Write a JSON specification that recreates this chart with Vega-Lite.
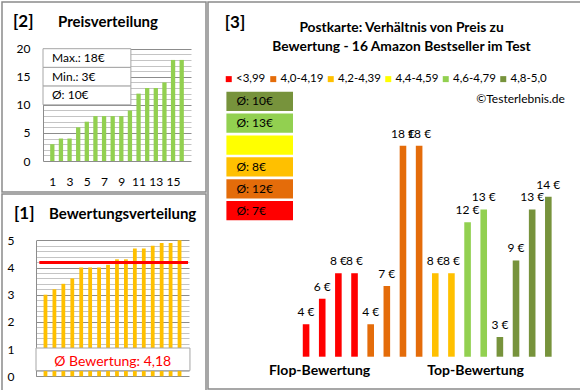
{
  "$schema": "https://vega.github.io/schema/vega-lite/v6.json",
  "padding": {"left": 1, "top": 1, "right": 0, "bottom": 0},
  "background": "white",
  "config": {
    "font": "Lato",
    "view": {"stroke": "#8a8a8a", "strokeWidth": 1.5},
    "axis": {"labelFont": "Lato", "labelColor": "#000000", "labelOverlap": false, "labelFlush": false},
    "legend": {"labelFont": "Lato"}
  },
  "datasets": {
    "prices": [
      {"rank": 1, "price": 3}, {"rank": 2, "price": 4}, {"rank": 3, "price": 4}, {"rank": 4, "price": 6},
      {"rank": 5, "price": 7}, {"rank": 6, "price": 8}, {"rank": 7, "price": 8}, {"rank": 8, "price": 8},
      {"rank": 9, "price": 8}, {"rank": 10, "price": 9}, {"rank": 11, "price": 12}, {"rank": 12, "price": 13},
      {"rank": 13, "price": 13}, {"rank": 14, "price": 14}, {"rank": 15, "price": 18}, {"rank": 16, "price": 18}
    ],
    "stats": [{"stat": "Max.: 18€"}, {"stat": "Min.: 3€"}, {"stat": "Ø: 10€"}],
    "ratings": [
      {"rank": 1, "rating": 3.0}, {"rank": 2, "rating": 3.2}, {"rank": 3, "rating": 3.4}, {"rank": 4, "rating": 3.6},
      {"rank": 5, "rating": 4.0}, {"rank": 6, "rating": 4.0}, {"rank": 7, "rating": 4.0}, {"rank": 8, "rating": 4.1},
      {"rank": 9, "rating": 4.3}, {"rank": 10, "rating": 4.3}, {"rank": 11, "rating": 4.7}, {"rank": 12, "rating": 4.7},
      {"rank": 13, "rating": 4.8}, {"rank": 14, "rating": 4.9}, {"rank": 15, "rating": 4.9}, {"rank": 16, "rating": 5.0}
    ],
    "products": [
      {"rank": 1, "price": 4, "cat": "<3,99", "label": "4 €"},
      {"rank": 2, "price": 6, "cat": "<3,99", "label": "6 €"},
      {"rank": 3, "price": 8, "cat": "<3,99", "label": "8 €"},
      {"rank": 4, "price": 8, "cat": "<3,99", "label": "8 €"},
      {"rank": 5, "price": 4, "cat": "4,0-4,19", "label": "4 €"},
      {"rank": 6, "price": 7, "cat": "4,0-4,19", "label": "7 €"},
      {"rank": 7, "price": 18, "cat": "4,0-4,19", "label": "18 €"},
      {"rank": 8, "price": 18, "cat": "4,0-4,19", "label": "18 €"},
      {"rank": 9, "price": 8, "cat": "4,2-4,39", "label": "8 €"},
      {"rank": 10, "price": 8, "cat": "4,2-4,39", "label": "8 €"},
      {"rank": 11, "price": 12, "cat": "4,6-4,79", "label": "12 €"},
      {"rank": 12, "price": 13, "cat": "4,6-4,79", "label": "13 €"},
      {"rank": 13, "price": 3, "cat": "4,8-5,0", "label": "3 €"},
      {"rank": 14, "price": 9, "cat": "4,8-5,0", "label": "9 €"},
      {"rank": 15, "price": 13, "cat": "4,8-5,0", "label": "13 €"},
      {"rank": 16, "price": 14, "cat": "4,8-5,0", "label": "14 €"}
    ],
    "groups": [
      {"cat": "4,8-5,0", "avg": "Ø: 10€"},
      {"cat": "4,6-4,79", "avg": "Ø: 13€"},
      {"cat": "4,4-4,59", "avg": ""},
      {"cat": "4,2-4,39", "avg": "Ø: 8€"},
      {"cat": "4,0-4,19", "avg": "Ø: 12€"},
      {"cat": "<3,99", "avg": "Ø: 7€"}
    ]
  },
  "spacing": 0,
  "hconcat": [
    {
      "spacing": 0,
      "vconcat": [
        {
          "width": 204,
          "height": 190,
          "layer": [
            {
              "data": {"name": "prices"},
              "mark": {"type": "bar", "width": 4.3, "color": "#92d050"},
              "encoding": {
                "x": {"field": "rank", "type": "quantitative",
                  "scale": {"domain": [0.5, 16.5], "range": [41, 189], "nice": false, "zero": false},
                  "axis": {"orient": "bottom", "offset": -31, "values": [1, 3, 5, 7, 9, 11, 13, 15], "format": "d",
                    "domain": false, "ticks": false, "grid": false, "title": null, "labelFontSize": 12,
                    "labelPadding": 15}},
                "y": {"field": "price", "type": "quantitative",
                  "scale": {"domain": [0, 20], "range": [159, 46.7], "nice": false},
                  "axis": {"orient": "left", "offset": -41, "values": [0,1,2,3,4,5,6,7,8,9,10,11,12,13,14,15,16,17,18,19,20],
                    "format": "d", "labelExpr": "datum.value % 5 === 0 ? datum.label : ''",
                    "grid": true, "gridColor": {"condition": {"test": "datum.value % 5 === 0", "value": "#8c8c8c"}, "value": "#c4c4c4"},
                    "domain": true, "domainColor": "#8c8c8c", "ticks": false, "title": null,
                    "labelFontSize": 12, "labelPadding": 13}}
              }
            },
            {
              "data": {"name": "stats"},
              "layer": [
                {
                  "mark": {"type": "rect", "fill": "white", "stroke": "#a6a6a6", "strokeWidth": 1},
                  "encoding": {
                    "x": {"datum": 0.5, "type": "quantitative", "scale": {"domain": [0.5, 16.5], "range": [41, 189], "nice": false, "zero": false}, "axis": null},
                    "x2": {"datum": 10},
                    "y": {"field": "stat", "type": "nominal", "sort": null,
                      "scale": {"range": [46.7, 102.8], "paddingInner": 0, "paddingOuter": 0}, "axis": null}
                  }
                },
                {
                  "mark": {"type": "text", "align": "left", "baseline": "middle", "dx": 9, "fontSize": 12, "color": "#000000"},
                  "encoding": {
                    "x": {"datum": 0.5, "axis": null},
                    "y": {"field": "stat", "type": "nominal", "sort": null, "axis": null},
                    "text": {"field": "stat"}
                  }
                }
              ]
            },
            {
              "data": {"values": [{}]},
              "layer": [
                {
                  "mark": {"type": "text", "align": "left", "baseline": "middle", "fontSize": 17, "fontWeight": "bold", "color": "#000000"},
                  "encoding": {
                    "x": {"datum": -2.74, "type": "quantitative", "scale": {"domain": [0.5, 16.5], "range": [41, 189], "nice": false, "zero": false}, "axis": null},
                    "y": {"datum": 24.84, "type": "quantitative", "scale": {"domain": [0, 20], "range": [159, 46.7], "nice": false, "zero": false}, "axis": null},
                    "text": {"value": "[2]"}
                  }
                },
                {
                  "mark": {"type": "text", "align": "left", "baseline": "middle", "fontSize": 15, "fontWeight": "bold", "color": "#000000"},
                  "encoding": {"x": {"datum": 2.12, "axis": null}, "y": {"datum": 24.84, "axis": null}, "text": {"value": "Preisverteilung"}}
                }
              ]
            }
          ],
          "resolve": {"scale": {"x": "independent", "y": "independent"}}
        },
        {
          "width": 204,
          "height": 197,
          "layer": [
            {
              "data": {"name": "ratings"},
              "mark": {"type": "bar", "width": 3.8, "color": "#ffc000"},
              "encoding": {
                "x": {"field": "rank", "type": "quantitative",
                  "scale": {"domain": [0.5, 16.5], "range": [34, 187], "nice": false, "zero": false}, "axis": null},
                "y": {"field": "rating", "type": "quantitative",
                  "scale": {"domain": [0, 5], "range": [182.3, 46.3], "nice": false},
                  "axis": {"orient": "left", "offset": -34,
                    "values": [0,0.2,0.4,0.6,0.8,1,1.2,1.4,1.6,1.8,2,2.2,2.4,2.6,2.8,3,3.2,3.4,3.6,3.8,4,4.2,4.4,4.6,4.8,5],
                    "format": ".0f", "labelExpr": "datum.value % 1 === 0 ? datum.label : ''",
                    "grid": true, "gridColor": {"condition": {"test": "datum.value % 1 === 0", "value": "#8c8c8c"}, "value": "#c4c4c4"},
                    "domain": true, "domainColor": "#8c8c8c", "ticks": false, "title": null,
                    "labelFontSize": 12, "labelPadding": 22}}
              }
            },
            {
              "layer": [
                {
                  "data": {"name": "ratings"},
                  "mark": {"type": "rule", "color": "#ff0000", "strokeWidth": 3},
                  "encoding": {
                    "x": {"datum": 0.85, "type": "quantitative", "scale": {"domain": [0.5, 16.5], "range": [34, 187], "nice": false, "zero": false}, "axis": null},
                    "x2": {"datum": 16.4},
                    "y": {"aggregate": "mean", "field": "rating", "type": "quantitative",
                      "scale": {"domain": [0, 5], "range": [182.3, 46.3], "nice": false, "zero": false}, "axis": null}
                  }
                },
                {
                  "data": {"values": [{}]},
                  "mark": {"type": "rect", "fill": "white", "stroke": "#a6a6a6", "strokeWidth": 1},
                  "encoding": {"x": {"datum": 0.5, "axis": null}, "x2": {"datum": 16.6}, "y": {"datum": 1.04, "axis": null}, "y2": {"datum": 0.21}}
                },
                {
                  "data": {"values": [{}]},
                  "mark": {"type": "text", "align": "center", "baseline": "middle", "fontSize": 14, "color": "#ff0000"},
                  "encoding": {"x": {"datum": 8.52, "axis": null}, "y": {"datum": 0.515, "axis": null}, "text": {"value": "Ø Bewertung: 4,18"}}
                },
                {
                  "data": {"values": [{}]},
                  "mark": {"type": "text", "align": "left", "baseline": "middle", "fontSize": 17, "fontWeight": "bold", "color": "#000000"},
                  "encoding": {"x": {"datum": -1.8, "axis": null}, "y": {"datum": 5.95, "axis": null}, "text": {"value": "[1]"}}
                },
                {
                  "data": {"values": [{}]},
                  "mark": {"type": "text", "align": "left", "baseline": "middle", "fontSize": 15, "fontWeight": "bold", "color": "#000000"},
                  "encoding": {"x": {"datum": 1.86, "axis": null}, "y": {"datum": 5.95, "axis": null}, "text": {"value": "Bewertungsverteilung"}}
                }
              ]
            }
          ],
          "resolve": {"scale": {"x": "independent", "y": "independent"}}
        }
      ]
    },
    {
      "width": 373,
      "height": 387,
      "layer": [
        {
          "data": {"name": "products"},
          "layer": [
            {
              "mark": {"type": "bar", "width": 6.6},
              "encoding": {
                "x": {"field": "rank", "type": "quantitative",
                  "scale": {"domain": [0.5, 16.5], "range": [85, 353.4], "nice": false, "zero": false},
                  "axis": {"orient": "bottom", "offset": -32.3, "values": [1.81, 11.47],
                    "labelExpr": "datum.value < 5 ? 'Flop-Bewertung' : 'Top-Bewertung'",
                    "domain": false, "ticks": false, "grid": false, "title": null,
                    "labelFontSize": 14, "labelFontWeight": "bold", "labelPadding": 7}},
                "y": {"field": "price", "type": "quantitative",
                  "scale": {"domain": [1.455, 18], "range": [354.7, 143.7], "nice": false, "zero": false}, "axis": null},
                "y2": {"datum": 1.455},
                "color": {"field": "cat", "type": "nominal",
                  "scale": {"domain": ["<3,99", "4,0-4,19", "4,2-4,39", "4,4-4,59", "4,6-4,79", "4,8-5,0"],
                    "range": ["#ff0000", "#e46c0a", "#ffc000", "#ffff00", "#92d050", "#77933c"]},
                  "legend": {"orient": "none", "legendX": 221, "legendY": 71, "direction": "horizontal", "title": null,
                    "symbolType": "square", "symbolSize": 36, "symbolStrokeWidth": 0, "labelFontSize": 11.5,
                    "labelColor": "#000000", "columnPadding": 1.5, "gridAlign": "each", "labelOffset": 1.5, "padding": 0}}
              }
            },
            {
              "mark": {"type": "text", "align": "center", "baseline": "alphabetic", "dy": -8, "fontSize": 12, "color": "#000000"},
              "encoding": {
                "x": {"field": "rank", "type": "quantitative"},
                "y": {"field": "price", "type": "quantitative", "axis": null},
                "text": {"field": "label"}
              }
            }
          ]
        },
        {
          "data": {"values": [{}]},
          "layer": [
            {
              "mark": {"type": "text", "align": "left", "baseline": "middle", "fontSize": 17, "fontWeight": "bold", "color": "#000000"},
              "encoding": {
                "x": {"datum": -3.57, "type": "quantitative", "scale": {"domain": [0.5, 16.5], "range": [85, 353.4], "nice": false, "zero": false}, "axis": null},
                "y": {"datum": 27.62, "type": "quantitative", "scale": {"domain": [1.455, 18], "range": [354.7, 143.7], "nice": false, "zero": false}, "axis": null},
                "text": {"value": "[3]"}
              }
            },
            {
              "mark": {"type": "text", "align": "center", "baseline": "middle", "fontSize": 13.8, "fontWeight": "bold", "color": "#000000", "lineBreak": "\n", "lineHeight": 19.5},
              "encoding": {"x": {"datum": 6.97, "axis": null}, "y": {"datum": 27.23, "axis": null},
                "text": {"value": "Postkarte: Verhältnis von Preis zu\nBewertung - 16 Amazon Bestseller im Test"}}
            },
            {
              "mark": {"type": "text", "align": "right", "baseline": "middle", "fontSize": 12, "color": "#000000"},
              "encoding": {"x": {"datum": 16.71, "axis": null}, "y": {"datum": 21.66, "axis": null}, "text": {"value": "©Testerlebnis.de"}}
            }
          ]
        },
        {
          "data": {"name": "groups"},
          "layer": [
            {
              "mark": {"type": "rect"},
              "encoding": {
                "x": {"datum": -3.47, "type": "quantitative", "scale": {"domain": [0.5, 16.5], "range": [85, 353.4], "nice": false, "zero": false}, "axis": null},
                "x2": {"datum": 0.5},
                "y": {"field": "cat", "type": "nominal", "sort": null,
                  "scale": {"range": [89.7, 218.3], "paddingInner": 0.12, "paddingOuter": 0}, "axis": null},
                "color": {"field": "cat", "type": "nominal"}
              }
            },
            {
              "mark": {"type": "text", "align": "left", "baseline": "middle", "dx": 10, "fontSize": 12, "color": "#000000"},
              "encoding": {
                "x": {"datum": -3.47, "axis": null},
                "y": {"field": "cat", "type": "nominal", "sort": null, "axis": null},
                "text": {"field": "avg"}
              }
            }
          ]
        }
      ],
      "resolve": {"scale": {"x": "independent", "y": "independent"}}
    }
  ]
}
